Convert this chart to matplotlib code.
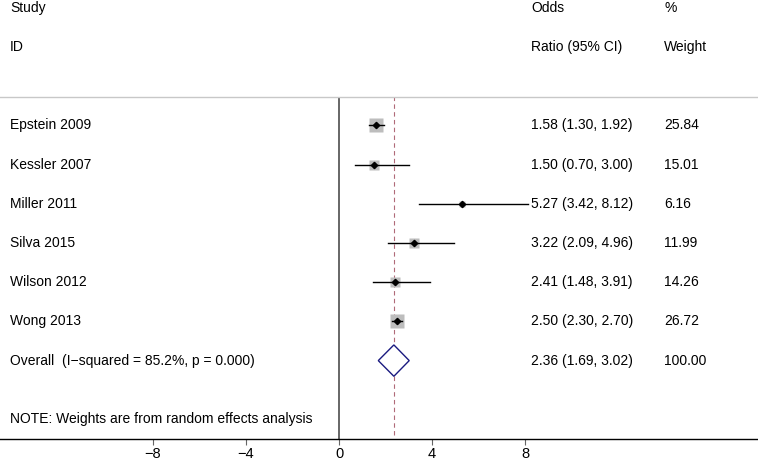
import numpy as np
import matplotlib
matplotlib.use("Agg")
import matplotlib.pyplot as plt
from matplotlib.patches import Polygon

plt.rcParams['font.family'] = ['Liberation Sans', 'DejaVu Sans']

# study data
studies = ['Epstein 2009', 'Kessler 2007', 'Miller 2011', 'Silva 2015', 'Wilson 2012', 'Wong 2013']
odds = [1.58, 1.50, 5.27, 3.22, 2.41, 2.50]
ci_low = [1.30, 0.70, 3.42, 2.09, 1.48, 2.30]
ci_high = [1.92, 3.00, 8.12, 4.96, 3.91, 2.70]
weights = [25.84, 15.01, 6.16, 11.99, 14.26, 26.72]

overall_label = 'Overall  (I\u2212squared = 85.2%, p = 0.000)'
overall_or = 2.36
overall_low = 1.69
overall_high = 3.02
overall_weight = 100.00

note = 'NOTE: Weights are from random effects analysis'
xticks = [-8, -4, 0, 4, 8]

fig = plt.figure(figsize=(7.58, 4.63), dpi=100)
ax = fig.add_axes([0, 24 / 463, 1, 342 / 463])
ax.set_xlim(-339 / 23.25, (758 - 339) / 23.25)
ax.set_ylim(0, 342 / 39.2)

fs = 10
x_name = -14.15
x_or = 8.26
x_wt = 13.98

# header
for y, a, b, c in [(11, 'Study', 'Odds', '%'), (10, 'ID', 'Ratio (95% CI)', 'Weight')]:
    ax.text(x_name, y, a, fontsize=fs, va='center', clip_on=False)
    ax.text(x_or, y, b, fontsize=fs, va='center', clip_on=False)
    ax.text(x_wt, y, c, fontsize=fs, va='center', clip_on=False)

# null line and overall line
ax.axvline(0, color='#666666', lw=1.4, zorder=1)
ax.plot([overall_or, overall_or], [0.1, 342 / 39.2], color='#b06a78', lw=0.8,
        ls=(0, (4, 3)), zorder=1)

rows = np.arange(len(studies))[::-1] + 3
for y, name, o, lo, hi, w in zip(rows, studies, odds, ci_low, ci_high, weights):
    side = 2.75 * np.sqrt(w)  # pixels
    ax.plot([o], [y], marker='s', ms=side * 0.72, color='#bdbdbd', mec='none', zorder=2)
    ax.plot([lo, hi], [y, y], color='black', lw=1.0, zorder=3)
    ax.plot([o], [y], marker='D', ms=3.2, color='black', zorder=4)
    ax.text(x_name, y, name, fontsize=fs, va='center')
    ax.text(x_or, y, f'{o:.2f} ({lo:.2f}, {hi:.2f})', fontsize=fs, va='center')
    ax.text(x_wt, y, f'{w:.2f}', fontsize=fs, va='center')

# overall diamond
h = 0.4
dia = Polygon([[overall_low, 2], [overall_or, 2 + h], [overall_high, 2], [overall_or, 2 - h]],
              closed=True, facecolor='white', edgecolor='#1a1a80', lw=1.0, zorder=3)
ax.add_patch(dia)
ax.text(x_name, 2, overall_label, fontsize=fs, va='center')
ax.text(x_or, 2, f'{overall_or:.2f} ({overall_low:.2f}, {overall_high:.2f})', fontsize=fs, va='center')
ax.text(x_wt, 2, f'{overall_weight:.2f}', fontsize=fs, va='center')

ax.text(x_name, 0.5, note, fontsize=fs, va='center')

# axes styling
ax.spines['left'].set_visible(False)
ax.spines['right'].set_visible(False)
ax.spines['top'].set_color('#c8c8c8')
ax.spines['top'].set_linewidth(1.0)
ax.spines['bottom'].set_color('black')
ax.spines['bottom'].set_linewidth(1.0)
ax.set_yticks([])
ax.set_xticks(xticks)
ax.set_xticklabels([str(t).replace('-', '\u2212') for t in xticks], fontsize=10.5)
ax.tick_params(axis='x', direction='out', length=4, width=0.8, color='#666666', pad=2)

fig.savefig('out.png', dpi=100)
